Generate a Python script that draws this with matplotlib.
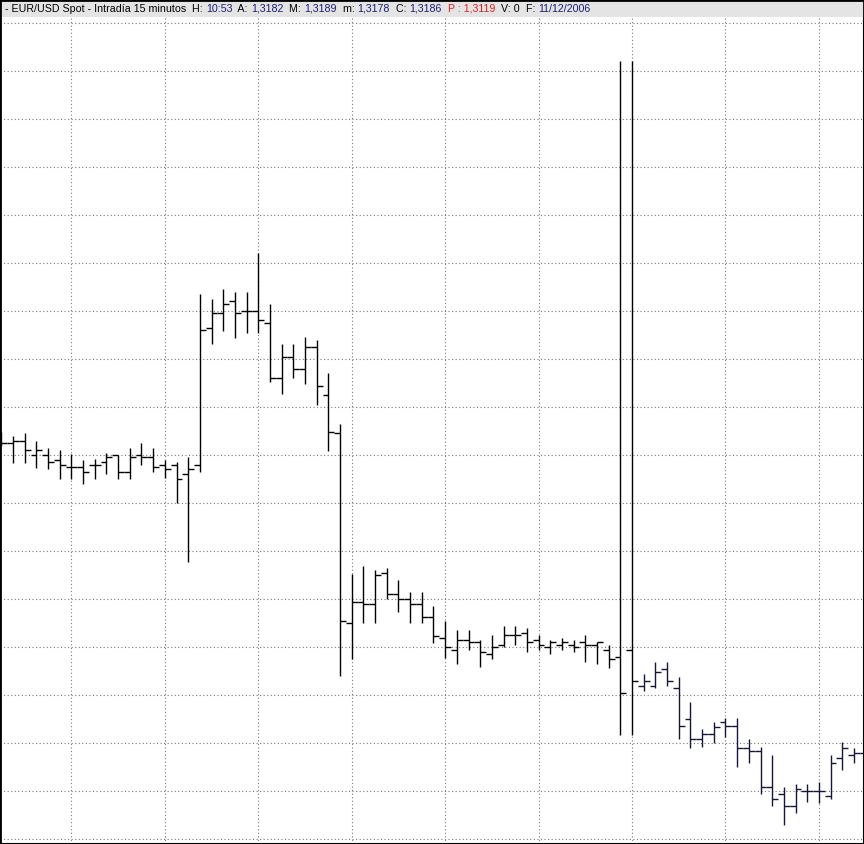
import numpy as np
import matplotlib.pyplot as plt
from matplotlib.patches import Rectangle

# EUR/USD 15 min bars, first bar (index -1) is half hidden behind the left edge
opens = [1.32173, 1.32170, 1.32172, 1.32158, 1.32158, 1.32153, 1.32146, 1.32146, 1.32148, 1.32151,
         1.32158, 1.32141, 1.32158, 1.32156, 1.32148, 1.32148, 1.32139, 1.32148, 1.32285, 1.32300,
         1.32312, 1.32302, 1.32302, 1.32290, 1.32235, 1.32256, 1.32244, 1.32266, 1.32218, 1.32180,
         1.31990, 1.32011, 1.32009, 1.32040, 1.32019, 1.32014, 1.32009, 1.31996, 1.31975, 1.31963,
         1.31973, 1.31971, 1.31959, 1.31968, 1.31978, 1.31980, 1.31973, 1.31966, 1.31968, 1.31968,
         1.31971, 1.31968, 1.31963, 1.31956, 1.31963, 1.31927, 1.31927, 1.31944, 1.31925, 1.31894,
         1.31874, 1.31879, 1.31891, 1.31887, 1.31865, 1.31862, 1.31826, 1.31819, 1.31807, 1.31822,
         1.31822, 1.31817, 1.31855, 1.31858, 1.31860]
highs = [1.32181, 1.32177, 1.32180, 1.32172, 1.32165, 1.32163, 1.32159, 1.32153, 1.32154, 1.32160,
         1.32158, 1.32165, 1.32170, 1.32165, 1.32153, 1.32151, 1.32156, 1.32319, 1.32314, 1.32324,
         1.32321, 1.32321, 1.32360, 1.32309, 1.32269, 1.32269, 1.32276, 1.32273, 1.32240, 1.32189,
         1.32039, 1.32047, 1.32043, 1.32045, 1.32033, 1.32021, 1.32021, 1.32007, 1.31992, 1.31983,
         1.31983, 1.31973, 1.31978, 1.31987, 1.31987, 1.31985, 1.31978, 1.31973, 1.31975, 1.31973,
         1.31978, 1.31971, 1.31968, 1.32552, 1.32552, 1.31939, 1.31951, 1.31951, 1.31936, 1.31911,
         1.31884, 1.31891, 1.31895, 1.31895, 1.31874, 1.31866, 1.31858, 1.31826, 1.31829, 1.31829,
         1.31831, 1.31858, 1.31871, 1.31865, 1.31863]
lows = [1.32167, 1.32150, 1.32150, 1.32145, 1.32144, 1.32134, 1.32134, 1.32129, 1.32134, 1.32139,
        1.32134, 1.32134, 1.32148, 1.32141, 1.32135, 1.32110, 1.32051, 1.32141, 1.32269, 1.32282,
        1.32275, 1.32280, 1.32280, 1.32231, 1.32219, 1.32235, 1.32229, 1.32208, 1.32162, 1.31937,
        1.31954, 1.31990, 1.31990, 1.32014, 1.32001, 1.31990, 1.31990, 1.31970, 1.31955, 1.31949,
        1.31963, 1.31946, 1.31954, 1.31966, 1.31968, 1.31961, 1.31963, 1.31959, 1.31963, 1.31961,
        1.31951, 1.31949, 1.31945, 1.31878, 1.31878, 1.31922, 1.31925, 1.31927, 1.31874, 1.31865,
        1.31866, 1.31870, 1.31876, 1.31846, 1.31850, 1.31819, 1.31807, 1.31788, 1.31800, 1.31811,
        1.31810, 1.31814, 1.31843, 1.31850, 1.31856]
closes = [1.32170, 1.32172, 1.32163, 1.32163, 1.32151, 1.32148, 1.32146, 1.32141, 1.32148, 1.32156,
          1.32141, 1.32156, 1.32156, 1.32146, 1.32144, 1.32134, 1.32144, 1.32283, 1.32300, 1.32309,
          1.32300, 1.32302, 1.32293, 1.32235, 1.32256, 1.32244, 1.32266, 1.32227, 1.32181, 1.31992,
          1.32011, 1.32009, 1.32038, 1.32019, 1.32014, 1.32009, 1.31996, 1.31977, 1.31966, 1.31973,
          1.31971, 1.31961, 1.31966, 1.31978, 1.31978, 1.31971, 1.31968, 1.31971, 1.31971, 1.31966,
          1.31968, 1.31971, 1.31954, 1.31920, 1.31932, 1.31932, 1.31941, 1.31932, 1.31887, 1.31874,
          1.31879, 1.31886, 1.31887, 1.31865, 1.31862, 1.31826, 1.31814, 1.31807, 1.31824, 1.31822,
          1.31822, 1.31850, 1.31865, 1.31860, 1.31860]
first_today = 54  # bars from here on are drawn in navy

NAVY = '#16163c'
TXT_BLUE = '#1c1c78'
header = [('- EUR/USD Spot - Intradía 15 minutos', 'black'), ('  H: ', 'black'), ('10:53', TXT_BLUE),
          ('  A: ', 'black'), ('1,3182', TXT_BLUE), ('  M: ', 'black'), ('1,3189', TXT_BLUE),
          ('  m: ', 'black'), ('1,3178', TXT_BLUE), ('  C: ', 'black'), ('1,3186', TXT_BLUE),
          ('  P : 1,3119', '#e02020'), ('  V: 0', 'black'), ('  F: ', 'black'), ('11/12/2006', TXT_BLUE)]

x = np.arange(-1, len(opens) - 1)
cols = np.where(x < first_today, 'black', NAVY)

fig = plt.figure(figsize=(8.64, 8.44), dpi=100)
top = 17 / 844
ax = fig.add_axes([0, 0, 1, 1 - top])
ax.set_xlim(-13 / 11.68, 851 / 11.68)
ax.set_ylim(1.31769, 1.32596)
ax.set_xticks(np.arange(5, 73, 8))
ax.set_yticks(1.32590 - 0.00048 * np.arange(18))
ax.tick_params(length=0, labelbottom=False, labelleft=False)
ax.grid(True, color='#7a7a7a', linestyle=(0, (1, 2.2)), linewidth=0.8)
ax.set_axisbelow(True)
for s in ax.spines.values():
    s.set_linewidth(1.5)
ax.spines['top'].set_visible(False)

# high-low bar, open tick on the left, close tick on the right
ax.vlines(x, lows, highs, colors=cols, linewidth=1.0)
ax.hlines(opens, x - 0.5, x, colors=cols, linewidth=1.0)
ax.hlines(closes, x, x + 0.5, colors=cols, linewidth=1.0)

# grey header strip
tax = fig.add_axes([0, 1 - top, 1, top])
tax.set_facecolor('#e4e4e4')
tax.set_xticks([])
tax.set_yticks([])
for s in tax.spines.values():
    s.set_visible(False)

fnt = dict(family=['Liberation Sans', 'DejaVu Sans'], fontsize=7.7)
t = tax.text(5 / 864, 0.5, header[0][0], color=header[0][1], va='center', ha='left', **fnt)
for txt, c in header[1:]:
    t = tax.annotate(txt, xy=(1, 0), xycoords=t, va='bottom', ha='left', color=c, **fnt)

fig.patches.append(Rectangle((0, 0), 1, 1, transform=fig.transFigure, fill=False,
                             edgecolor='black', linewidth=2))

fig.savefig('out.png', dpi=100)
